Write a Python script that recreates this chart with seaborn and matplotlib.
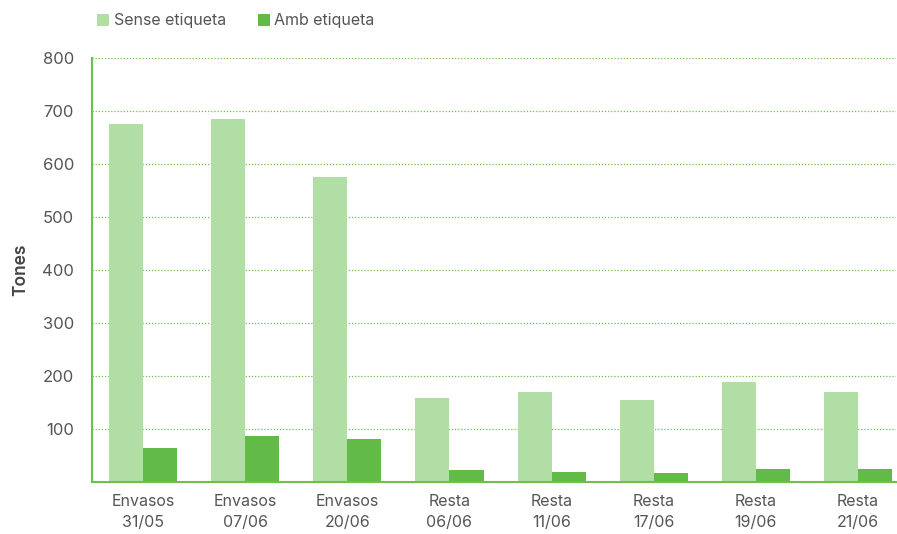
import seaborn as sns
import matplotlib.pyplot as plt
import pandas as pd
import numpy as np

# Data
categories = ['Envasos\n31/05', 'Envasos\n07/06', 'Envasos\n20/06', 'Resta\n06/06',
              'Resta\n11/06', 'Resta\n17/06', 'Resta\n19/06', 'Resta\n21/06']
sense_etiqueta = [675, 685, 575, 158, 170, 155, 189, 170]
amb_etiqueta = [64, 87, 81, 23, 19, 17, 24, 24]
series_names = ['Sense etiqueta', 'Amb etiqueta']
y_ticks = [0, 100, 200, 300, 400, 500, 600, 700, 800]

df = pd.DataFrame({
    'cat': categories * 2,
    'value': sense_etiqueta + amb_etiqueta,
    'serie': [series_names[0]] * len(categories) + [series_names[1]] * len(categories),
})

sns.set_theme(style='white')
plt.rcParams['font.family'] = ['Inter', 'DejaVu Sans']

light = '#b0dea4'
dark = '#62bb46'
axis_green = '#6cc04e'
text_grey = '#555555'

fig = plt.figure(figsize=(8.97, 5.34), dpi=100)
ax = fig.add_axes([0.1026, 0.0974, 0.896, 0.7936])

sns.barplot(data=df, x='cat', y='value', hue='serie', order=categories,
            palette=[light, dark], width=0.667, gap=0, saturation=1,
            edgecolor='none', linewidth=0, ax=ax, legend=True)

ax.set_yticks(y_ticks)
ax.set_yticklabels([''] + [str(v) for v in y_ticks[1:]])

# boundary ticks (major) and centred labels (minor)
ax.set_xticks(np.arange(-0.5, len(categories), 1.0))
ax.set_xticklabels([])
ax.set_xticks(np.arange(len(categories)), minor=True)
ax.set_xticklabels(categories, minor=True, linespacing=1.45)
ax.tick_params(axis='x', which='major', length=10, width=1.2, color=axis_green, direction='out')
ax.tick_params(axis='x', which='minor', length=0, pad=9, labelsize=11.5, labelcolor=text_grey)
ax.tick_params(axis='y', length=8, width=1.5, color=axis_green, direction='out',
               labelsize=12, labelcolor=text_grey, pad=5)

# limits after ticks so set_xticks does not widen them
ax.set_ylim(0, 800)
ax.set_xlim(-0.5, 7.37)

for s in ['top', 'right']:
    ax.spines[s].set_visible(False)
for s in ['left', 'bottom']:
    ax.spines[s].set_color(axis_green)
    ax.spines[s].set_linewidth(1.5)

ax.yaxis.grid(True, linestyle=(0, (1, 1.5)), color=axis_green, linewidth=0.9)
ax.set_axisbelow(True)

ax.set_xlabel('')
ax.set_ylabel('Tones', fontsize=12.5, color='#444444', fontweight='semibold', labelpad=9)

leg = ax.legend(loc='upper left', bbox_to_anchor=(-0.012, 1.14), ncol=2, frameon=False,
                fontsize=11.5, handlelength=0.75, handleheight=0.75, handletextpad=0.3,
                columnspacing=2.0)
for t in leg.get_texts():
    t.set_color(text_grey)

plt.savefig('out.png', dpi=100)
plt.close()
